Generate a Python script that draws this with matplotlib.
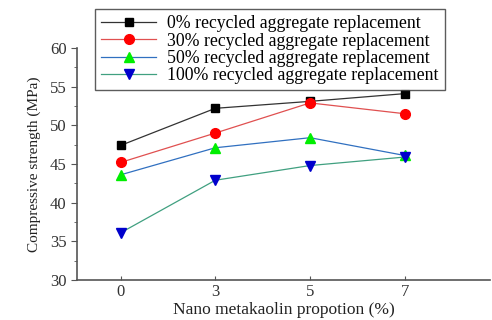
import numpy as np
import matplotlib.pyplot as plt

plt.rcParams['font.family'] = ['Liberation Serif', 'DejaVu Serif']

# Nano metakaolin content and compressive strength (MPa)
nmk_labels = ['0', '3', '5', '7']
rca_0 = [47.4, 52.2, 53.1, 54.1]
rca_30 = [45.2, 49.0, 52.9, 51.5]
rca_50 = [43.6, 47.1, 48.4, 46.1]
rca_100 = [36.1, 42.9, 44.8, 45.9]
series_names = ['0% recycled aggregate replacement',
                '30% recycled aggregate replacement',
                '50% recycled aggregate replacement',
                '100% recycled aggregate replacement']

x = np.arange(len(nmk_labels))

fig = plt.figure(figsize=(4.92, 3.2), dpi=100)
ax = fig.add_axes([0.1565, 0.125, 0.8395, 0.725])

ax.plot(x, rca_0, color='#333333', lw=0.9, marker='s', ms=6,
        mfc='black', mec='black', label=series_names[0])
ax.plot(x, rca_30, color='#e05050', lw=0.9, marker='o', ms=7,
        mfc='red', mec='red', label=series_names[1])
ax.plot(x, rca_50, color='#3070c0', lw=0.9, marker='^', ms=7,
        mfc='#00ee00', mec='#00ee00', label=series_names[2])
ax.plot(x, rca_100, color='#40a080', lw=0.9, marker='v', ms=7,
        mfc='#0000cc', mec='#0000cc', label=series_names[3])

ax.set_xlim(-0.46, 3.9)
ax.set_ylim(30, 60)
ax.set_xticks(x)
ax.set_xticklabels(nmk_labels)
ax.set_yticks(np.arange(30, 61, 5))
ax.set_yticks(np.arange(30, 60.1, 2.5), minor=True)
ax.tick_params(axis='y', which='both', direction='out', labelsize=12, colors='#555555',
               labelcolor='#333333')
ax.tick_params(axis='y', which='major', length=4)
ax.tick_params(axis='y', which='minor', length=2)
ax.tick_params(axis='x', direction='in', length=3, labelsize=12, colors='#555555',
               labelcolor='#333333', pad=3)
for s in ['top', 'right']:
    ax.spines[s].set_visible(False)
for s in ['left', 'bottom']:
    ax.spines[s].set_color('#555555')
    ax.spines[s].set_linewidth(1.2)

ax.set_xlabel('Nano metakaolin propotion (%)', fontsize=12.5, color='#222222', labelpad=1)
ax.set_ylabel('Compressive strength (MPa)', fontsize=11, color='#222222', labelpad=6)

leg = fig.legend(loc='upper left', bbox_to_anchor=(0.193, 0.972), fontsize=12.8,
                 frameon=True, fancybox=False, handlelength=3.1, handletextpad=0.6,
                 borderpad=0.35, labelspacing=0.02, borderaxespad=0)
leg.get_frame().set_edgecolor('#333333')
leg.get_frame().set_linewidth(1.0)

fig.savefig('out.png', dpi=100)
